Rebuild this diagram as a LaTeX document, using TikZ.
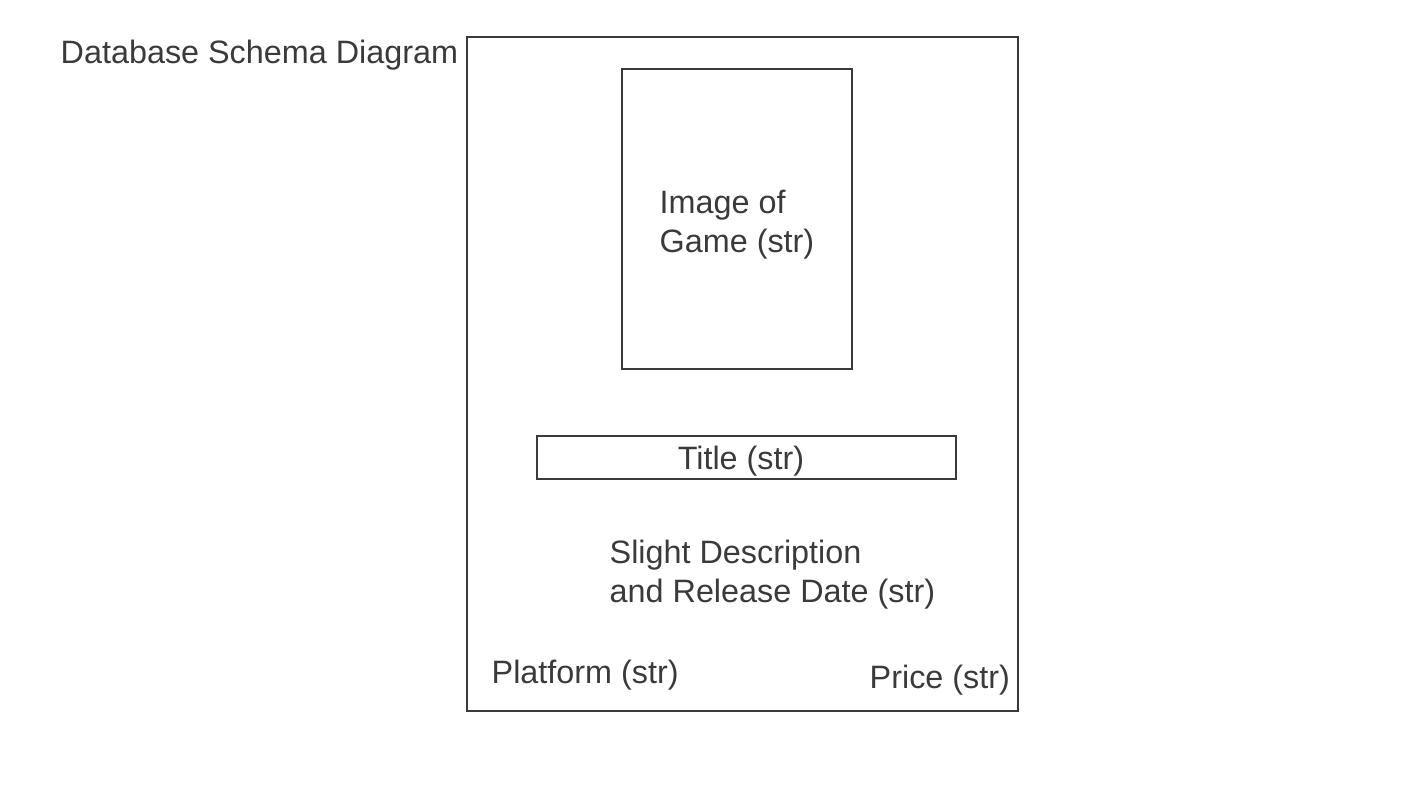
\documentclass[tikz,border=0pt]{standalone}
\usepackage{fontspec}
\setmainfont{Liberation Sans}
\definecolor{ink}{HTML}{3A3A3A}
\begin{document}
\begin{tikzpicture}[x=0.01cm,y=-0.01cm,
  box/.style={draw=ink,line width=0.6pt},
  lbl/.style={text=ink,inner sep=0pt,anchor=base west,align=left,font=\fontsize{9.2}{10.95}\selectfont}]
\useasboundingbox (0,0) rectangle (1422,800);
\node[lbl] (title) at (60,63) {Database Schema Diagram};
\draw[box] (467,37) rectangle (1018,711);
\draw[box] (622,69) rectangle (852,369);
\node[lbl] (img) at (659,252) {Image of\\Game (str)};
\draw[box] (537,436) rectangle (956,479);
\node[lbl,anchor=base] (ttl) at (741,469) {Title (str)};
\node[lbl] (desc) at (609,602) {Slight Description\\and Release Date (str)};
\node[lbl] (plat) at (491,683) {Platform (str)};
\node[lbl] (price) at (869,688) {Price (str)};
\end{tikzpicture}
\end{document}
